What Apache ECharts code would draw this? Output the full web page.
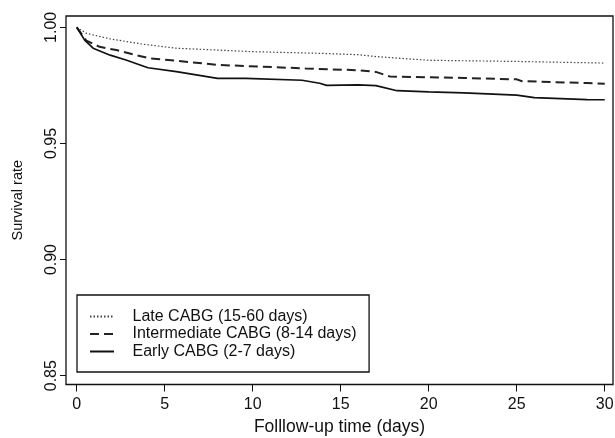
<!DOCTYPE html>
<html>
<head>
<meta charset="utf-8">
<script src="https://cdn.jsdelivr.net/npm/echarts@6/dist/echarts.min.js"></script>
<style>
  html, body { margin: 0; padding: 0; background: #fff; }
  #main { width: 615px; height: 438px; }
</style>
</head>
<body>
<div id="main"></div>
<script>
// tick labels
var xTicks = [0, 5, 10, 15, 20, 25, 30];
var yTicks = [0.85, 0.90, 0.95, 1.00];

// Kaplan-Meier curves: [day, survival]
var lateDays = [0, 0.55, 1.9, 3.8, 5.66, 8, 10, 13.8, 16, 17, 20, 25, 30];
var lateSurv = [1.0, 0.9974, 0.995, 0.9927, 0.991, 0.9902, 0.9895, 0.9888, 0.9882, 0.9874, 0.9858, 0.9853, 0.9846];

var interDays = [0, 0.55, 1.3, 2.25, 3.4, 4.15, 5.66, 8, 13, 16, 17, 17.8, 20, 22, 25, 25.3, 29, 30];
var interSurv = [1.0, 0.9942, 0.9916, 0.9902, 0.988, 0.9866, 0.9856, 0.9838, 0.9823, 0.9815, 0.9808, 0.9788, 0.9785, 0.9782, 0.9776, 0.9768, 0.976, 0.9757];

var earlyDays = [0, 0.45, 0.93, 1.9, 2.8, 3.6, 4.05, 5.66, 8, 9.6, 9.7, 12.8, 13.8, 14.2, 16, 17, 18.2, 20, 22, 25, 26, 29, 30];
var earlySurv = [1.0, 0.9945, 0.991, 0.988, 0.9859, 0.9838, 0.9826, 0.9809, 0.978, 0.978, 0.9773, 0.9772, 0.9759, 0.975, 0.9752, 0.9749, 0.9727, 0.9722, 0.9718, 0.9708, 0.9697, 0.9689, 0.9688];

var names = ['Late CABG (15-60 days)', 'Intermediate CABG (8-14 days)', 'Early CABG (2-7 days)'];

function pairs(xs, ys) {
  return xs.map(function (x, i) { return [x, ys[i]]; });
}

var font = 'Liberation Sans, Arial, Helvetica, sans-serif';
var myChart = echarts.init(document.getElementById('main'));
myChart.setOption({
  animation: false,
  color: ['#333', '#222', '#111'],
  textStyle: { fontFamily: font },
  grid: {
    left: 66, top: 16, right: 2, bottom: 53.5,
    outerBoundsMode: 'none',
    show: true, borderColor: '#111', borderWidth: 1.3
  },
  xAxis: {
    type: 'value',
    min: -0.61,
    max: 30.47,
    name: 'Folllow-up time (days)',
    nameLocation: 'middle',
    nameGap: 34,
    nameTextStyle: { fontSize: 17.5, color: '#111', fontFamily: font },
    axisLine: { show: false, onZero: false },
    axisTick: { show: true, length: 7, customValues: xTicks, lineStyle: { color: '#111' } },
    axisLabel: { customValues: xTicks, fontSize: 16, color: '#111', margin: 12, fontFamily: font },
    splitLine: { show: false }
  },
  yAxis: {
    type: 'value',
    min: 0.8462,
    max: 1.00487,
    name: 'Survival rate',
    nameLocation: 'middle',
    nameRotate: 90,
    nameGap: 41,
    nameTextStyle: { fontSize: 14.5, color: '#111', fontFamily: font },
    axisLine: { show: false, onZero: false },
    axisTick: { show: true, length: 6, customValues: yTicks, lineStyle: { color: '#111' } },
    axisLabel: {
      customValues: yTicks, rotate: 90, fontSize: 16, color: '#111', margin: 6, fontFamily: font,
      formatter: function (v) { return v.toFixed(2); }
    },
    splitLine: { show: false }
  },
  legend: {
    orient: 'vertical',
    left: 77,
    top: 295,
    data: names,
    itemWidth: 24,
    itemHeight: 16,
    itemGap: 1.5,
    padding: [13.5, 12.5, 12.5, 12],
    borderColor: '#111',
    borderWidth: 1.3,
    itemStyle: { opacity: 0 },
    textStyle: { fontSize: 16, color: '#111', padding: [0, 0, 0, 13.5], fontFamily: font }
  },
  series: [
    {
      name: names[0], type: 'line', symbol: 'none',
      data: pairs(lateDays, lateSurv),
      lineStyle: { color: '#444', width: 1.2, type: [1.5, 2] }
    },
    {
      name: names[1], type: 'line', symbol: 'none',
      data: pairs(interDays, interSurv),
      lineStyle: { color: '#222', width: 2, type: [9, 5] }
    },
    {
      name: names[2], type: 'line', symbol: 'none',
      data: pairs(earlyDays, earlySurv),
      lineStyle: { color: '#111', width: 1.7 }
    }
  ]
});
</script>
</body>
</html>
